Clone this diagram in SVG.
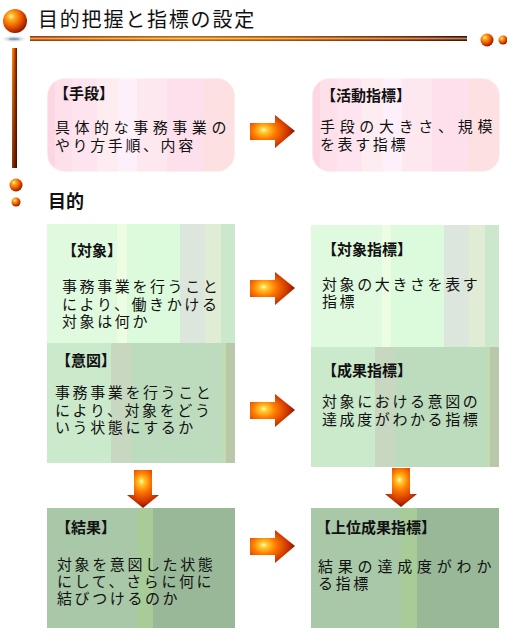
<svg xmlns="http://www.w3.org/2000/svg" width="507" height="633" viewBox="0 0 507 633">
<defs>
<style>
.t{font-family:"Noto Sans CJK JP","Noto Sans CJK SC",sans-serif;fill:#111;}
.h{font-size:15px;font-weight:bold;}
.b{font-size:15px;letter-spacing:2.6px;}
</style>
<radialGradient id="sph" cx="0.38" cy="0.35" r="0.7" fx="0.33" fy="0.3">
<stop offset="0" stop-color="#fff4b0"/><stop offset="0.2" stop-color="#ffb020"/><stop offset="0.55" stop-color="#f06000"/><stop offset="0.85" stop-color="#b02800"/><stop offset="1" stop-color="#801000"/>
</radialGradient>
<radialGradient id="shadow" cx="0.5" cy="0.5" r="0.5">
<stop offset="0" stop-color="#8090a0"/><stop offset="1" stop-color="#d0d8e0" stop-opacity="0"/>
</radialGradient>
<linearGradient id="hbar" x1="0" y1="0" x2="1" y2="0">
<stop offset="0" stop-color="#d04800"/><stop offset="0.35" stop-color="#ff8a10"/><stop offset="0.55" stop-color="#e86a00"/><stop offset="0.85" stop-color="#a02800"/><stop offset="1" stop-color="#500000"/>
</linearGradient>
<linearGradient id="hbarHi" x1="0" y1="0" x2="0" y2="1">
<stop offset="0" stop-color="#000" stop-opacity="0.25"/><stop offset="0.5" stop-color="#fff0a0" stop-opacity="0.55"/><stop offset="1" stop-color="#000" stop-opacity="0.3"/>
</linearGradient>
<linearGradient id="vbar" x1="0" y1="0" x2="1" y2="0">
<stop offset="0" stop-color="#ff9a20"/><stop offset="0.45" stop-color="#e05000"/><stop offset="1" stop-color="#601000"/>
</linearGradient>
<linearGradient id="vbarShade" x1="0" y1="0" x2="0" y2="1">
<stop offset="0" stop-color="#000" stop-opacity="0"/><stop offset="1" stop-color="#300000" stop-opacity="0.6"/>
</linearGradient>
<radialGradient id="arrR" cx="0.35" cy="0.5" r="0.75" fx="0.3" fy="0.45">
<stop offset="0" stop-color="#fffce0"/><stop offset="0.1" stop-color="#ffd030"/><stop offset="0.35" stop-color="#ff7800"/><stop offset="0.7" stop-color="#c83000"/><stop offset="1" stop-color="#500000"/>
</radialGradient>
<radialGradient id="arrD" cx="0.5" cy="0.35" r="0.75" fx="0.45" fy="0.3">
<stop offset="0" stop-color="#fffce0"/><stop offset="0.1" stop-color="#ffd030"/><stop offset="0.35" stop-color="#ff7800"/><stop offset="0.7" stop-color="#c83000"/><stop offset="1" stop-color="#500000"/>
</radialGradient>
<linearGradient id="pink" x1="0" y1="0" x2="1" y2="0">
<stop offset="0" stop-color="#fcd6e0"/><stop offset="0.043" stop-color="#fcd6e0"/>
<stop offset="0.043" stop-color="#fde0ea"/><stop offset="0.133" stop-color="#fde0ea"/>
<stop offset="0.133" stop-color="#fde4ee"/><stop offset="0.266" stop-color="#fde4ee"/>
<stop offset="0.266" stop-color="#fdecf0"/><stop offset="0.378" stop-color="#fdecf0"/>
<stop offset="0.378" stop-color="#fdf0fa"/><stop offset="0.479" stop-color="#fdf0fa"/>
<stop offset="0.479" stop-color="#fde8f0"/><stop offset="0.638" stop-color="#fde8f0"/>
<stop offset="0.638" stop-color="#fde0ec"/><stop offset="0.83" stop-color="#fde0ec"/>
<stop offset="0.83" stop-color="#fde0e2"/><stop offset="1" stop-color="#fde0e2"/>
</linearGradient>
<linearGradient id="g1" x1="0" y1="0" x2="1" y2="0">
<stop offset="0" stop-color="#e0fae0"/><stop offset="0.375" stop-color="#e0fae0"/>
<stop offset="0.375" stop-color="#edfde2"/><stop offset="0.428" stop-color="#edfde2"/>
<stop offset="0.428" stop-color="#dcfadc"/><stop offset="0.705" stop-color="#dcfadc"/>
<stop offset="0.705" stop-color="#dce6dc"/><stop offset="0.843" stop-color="#dce6dc"/>
<stop offset="0.843" stop-color="#e0ecd4"/><stop offset="0.928" stop-color="#e0ecd4"/>
<stop offset="0.928" stop-color="#cce8cc"/><stop offset="1" stop-color="#cce8cc"/>
</linearGradient>
<linearGradient id="g2" x1="0" y1="0" x2="1" y2="0">
<stop offset="0" stop-color="#cbe9cb"/><stop offset="0.34" stop-color="#cbe9cb"/>
<stop offset="0.34" stop-color="#c8d8c0"/><stop offset="0.447" stop-color="#c8d8c0"/>
<stop offset="0.447" stop-color="#bddcbe"/><stop offset="0.93" stop-color="#bddcbe"/>
<stop offset="0.93" stop-color="#c0dcb0"/><stop offset="0.95" stop-color="#c0dcb0"/>
<stop offset="0.95" stop-color="#b8c8a8"/><stop offset="1" stop-color="#b8c8a8"/>
</linearGradient>
<linearGradient id="g3" x1="0" y1="0" x2="1" y2="0">
<stop offset="0" stop-color="#a8c8a8"/><stop offset="0.48" stop-color="#a8c8a8"/>
<stop offset="0.48" stop-color="#a8cc98"/><stop offset="0.562" stop-color="#a8cc98"/>
<stop offset="0.562" stop-color="#98b898"/><stop offset="1" stop-color="#98b898"/>
</linearGradient>
</defs>

<g id="header">
<ellipse cx="14" cy="39" rx="13" ry="3.5" fill="url(#shadow)"/>
<line x1="9" y1="39" x2="19" y2="39" stroke="#6a9ac8" stroke-width="1"/>
<circle cx="15" cy="21" r="12" fill="url(#sph)"/>
<text class="t" x="38" y="27" font-size="20" letter-spacing="1.8">目的把握と指標の設定</text>
<rect x="30" y="36" width="437" height="5" fill="url(#hbar)"/>
<rect x="30" y="36" width="437" height="5" fill="url(#hbarHi)"/>
<circle cx="487" cy="40" r="6.5" fill="url(#sph)"/>
<circle cx="503" cy="40" r="4.5" fill="url(#sph)"/>
<rect x="12" y="48" width="5" height="120" fill="url(#vbar)"/>
<rect x="12" y="48" width="5" height="120" fill="url(#vbarShade)"/>
<circle cx="16" cy="185" r="6.5" fill="url(#sph)"/>
<circle cx="16" cy="202" r="4.5" fill="url(#sph)"/>
<text class="t" x="48" y="208" font-size="18" font-weight="bold">目的</text>
</g>

<g id="node-shudan">
<rect x="47" y="78" width="188" height="94" rx="18" fill="url(#pink)" stroke="#fff" stroke-opacity="0.6" stroke-width="1.5"/>
<text class="t h" x="54" y="99">【手段】</text>
<text class="t b" x="55" y="133" textLength="174" lengthAdjust="spacing">具体的な事務事業の</text>
<text class="t b" x="55" y="151">やり方手順、内容</text>
</g>

<g id="node-katsudo">
<rect x="312" y="78" width="188" height="94" rx="18" fill="url(#pink)" stroke="#fff" stroke-opacity="0.6" stroke-width="1.5"/>
<text class="t h" x="321" y="101">【活動指標】</text>
<text class="t b" x="320" y="132" textLength="175" lengthAdjust="spacing">手段の大きさ、規模</text>
<text class="t b" x="320" y="150">を表す指標</text>
</g>

<g id="node-taisho">
<rect x="47" y="224" width="188" height="119" fill="url(#g1)"/>
<text class="t h" x="62" y="256">【対象】</text>
<text class="t b" x="62" y="292">事務事業を行うこと</text>
<text class="t b" x="62" y="310">により、働きかける</text>
<text class="t b" x="62" y="327">対象は何か</text>
</g>

<g id="node-taisho-shihyo">
<rect x="311" y="225" width="188" height="122" fill="url(#g1)"/>
<text class="t h" x="322" y="255">【対象指標】</text>
<text class="t b" x="322" y="290">対象の大きさを表す</text>
<text class="t b" x="322" y="307">指標</text>
</g>

<g id="node-ito">
<rect x="47" y="343" width="188" height="120" fill="url(#g2)"/>
<text class="t h" x="56" y="366">【意図】</text>
<text class="t b" x="55" y="398">事務事業を行うこと</text>
<text class="t b" x="55" y="416">により、対象をどう</text>
<text class="t b" x="55" y="433">いう状態にするか</text>
</g>

<g id="node-seika-shihyo">
<rect x="311" y="347" width="188" height="120" fill="url(#g2)"/>
<text class="t h" x="322" y="376">【成果指標】</text>
<text class="t b" x="322" y="407">対象における意図の</text>
<text class="t b" x="322" y="425">達成度がわかる指標</text>
</g>

<g id="node-kekka">
<rect x="47" y="508" width="188" height="120" fill="url(#g3)"/>
<text class="t h" x="56" y="533">【結果】</text>
<text class="t b" x="57" y="570">対象を意図した状態</text>
<text class="t b" x="57" y="587">にして、さらに何に</text>
<text class="t b" x="57" y="604">結びつけるのか</text>
</g>

<g id="node-joi-seika-shihyo">
<rect x="311" y="508" width="188" height="120" fill="url(#g3)"/>
<text class="t h" x="316" y="533">【上位成果指標】</text>
<text class="t b" x="318" y="572" textLength="176" lengthAdjust="spacing">結果の達成度がわか</text>
<text class="t b" x="318" y="589">る指標</text>
</g>

<g id="connectors">
<path d="M250,123 H275 V115 L295,131 L275,148 V140 H250 Z" fill="url(#arrR)"/>
<path d="M250,280 H275 V272 L295,288 L275,305 V297 H250 Z" fill="url(#arrR)"/>
<path d="M250,402 H275 V394 L295,410 L275,427 V419 H250 Z" fill="url(#arrR)"/>
<path d="M250,538 H275 V530 L295,546 L275,563 V555 H250 Z" fill="url(#arrR)"/>
<path d="M134,470 V495 H127 L143,508 L159,495 H152 V470 Z" fill="url(#arrD)"/>
<path d="M392,468 V494 H385 L401,507 L417,494 H410 V468 Z" fill="url(#arrD)"/>
</g>
</svg>
